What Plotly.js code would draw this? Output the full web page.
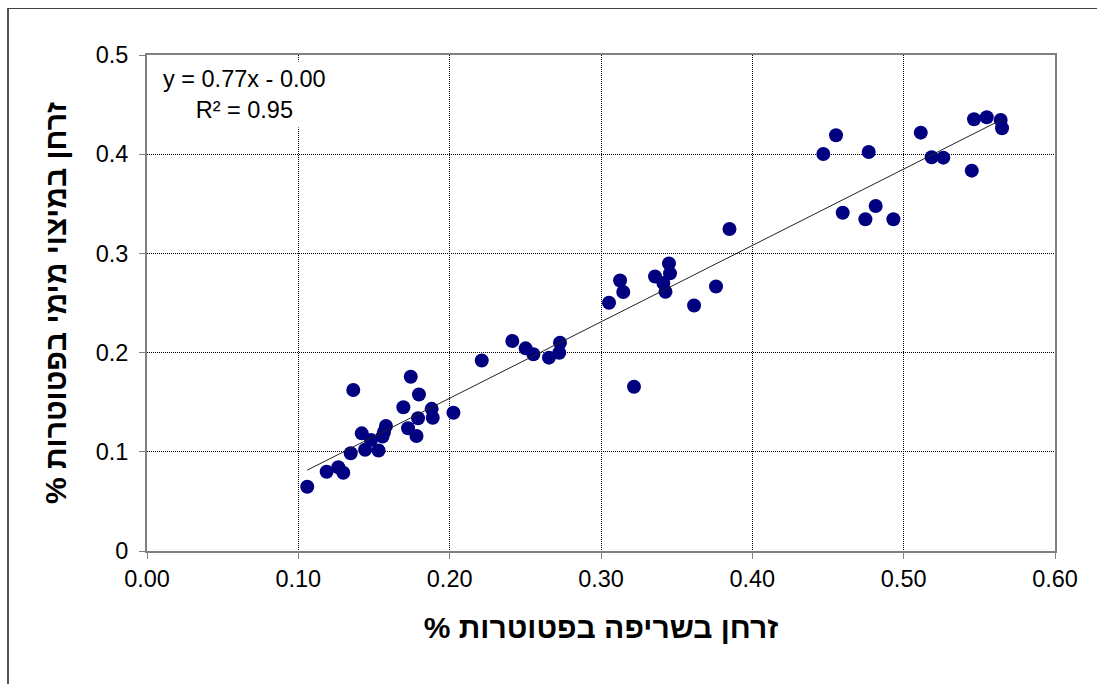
<!DOCTYPE html>
<html>
<head>
<meta charset="utf-8">
<script src="https://cdn.plot.ly/plotly-3.0.1.min.js"></script>
<style>
  html, body { margin: 0; padding: 0; background: #fff; overflow: hidden; }
  #wrap { position: relative; width: 1097px; height: 684px; }
  #chart { position: absolute; left: 0; top: 0; width: 1097px; height: 684px; }
  #frame { position: absolute; left: 7px; top: 8px; width: 1200px; height: 800px;
           border-left: 2px solid #555; border-top: 1px solid #444; pointer-events: none; }
</style>
</head>
<body>
<div id="wrap">
  <div id="chart"></div>
  <div id="frame"></div>
</div>
<script>
// Data
const burnP = [0.1059, 0.1187, 0.1264, 0.1297, 0.1346, 0.1363, 0.1419, 0.1441, 0.1480, 0.1530,
  0.1556, 0.1566, 0.1579, 0.1694, 0.1725, 0.1743, 0.1781, 0.1797, 0.1791, 0.1881,
  0.1888, 0.2025, 0.2212, 0.2414, 0.2502, 0.2553, 0.2656, 0.2724, 0.2729, 0.3053,
  0.3126, 0.3147, 0.3218, 0.3357, 0.3412, 0.3426, 0.3449, 0.3456, 0.3615, 0.3760,
  0.3849, 0.4469, 0.4553, 0.4597, 0.4747, 0.4769, 0.4815, 0.4932, 0.5113, 0.5185,
  0.5262, 0.5450, 0.5465, 0.5549, 0.5641, 0.5650];
const waterP = [0.0648, 0.0799, 0.0844, 0.0789, 0.0985, 0.1623, 0.1186, 0.1021, 0.1119, 0.1013,
  0.1154, 0.1200, 0.1260, 0.1449, 0.1237, 0.1757, 0.1159, 0.1578, 0.1338, 0.1433,
  0.1344, 0.1394, 0.1920, 0.2117, 0.2043, 0.1983, 0.1949, 0.1999, 0.2100, 0.2503,
  0.2727, 0.2611, 0.1656, 0.2767, 0.2702, 0.2614, 0.2898, 0.2799, 0.2475, 0.2666,
  0.3246, 0.4002, 0.4191, 0.3410, 0.3344, 0.4022, 0.3478, 0.3344, 0.4217, 0.3969,
  0.3965, 0.3834, 0.4352, 0.4372, 0.4345, 0.4261];

const trendSlope = 0.77;
const trendIntercept = 0.00;
const rSquared = 0.95;

const xTitle = "זרחן בשריפה בפטוטרות %\u200F";
const yTitle = "זרחן במיצוי מימי בפטוטרות %\u200F";
const eqText = "y = 0.77x - 0.00<br>R² = 0.95";

const xMin = Math.min(...burnP), xMax = Math.max(...burnP);
const trendX = [xMin, xMax];
const trendY = trendX.map(v => trendSlope * v + trendIntercept);

const FONT = "Liberation Sans, Arial, DejaVu Sans, sans-serif";
const TITLE_FONT = "Liberation Sans, Arial, DejaVu Sans, sans-serif";

const traces = [
  {
    x: burnP, y: waterP, type: 'scatter', mode: 'markers',
    marker: { color: '#000080', size: 14, line: { width: 0 } },
    hoverinfo: 'x+y'
  },
  {
    x: trendX, y: trendY, type: 'scatter', mode: 'lines',
    line: { color: '#222', width: 1 },
    hoverinfo: 'skip'
  }
];

const axisCommon = {
  showline: true, linecolor: '#808080', linewidth: 2, mirror: true,
  ticks: 'outside', ticklen: 6, tickwidth: 1, tickcolor: '#808080',
  showgrid: true, gridcolor: '#000', gridwidth: 1, griddash: '1px,1px',
  zeroline: false,
  tickfont: { family: FONT, size: 23.5, color: '#000' }
};

const layout = {
  width: 1097, height: 684,
  margin: { l: 147, r: 42, t: 55, b: 133 },
  paper_bgcolor: 'rgba(0,0,0,0)', plot_bgcolor: '#fff',
  showlegend: false,
  font: { family: FONT, color: '#000' },
  xaxis: Object.assign({}, axisCommon, {
    range: [0, 0.6], dtick: 0.1, tick0: 0, tickformat: '.2f',
    title: { text: xTitle, font: { family: TITLE_FONT, size: 30, color: '#000', weight: 'bold' }, standoff: 26 }
  }),
  yaxis: Object.assign({}, axisCommon, {
    range: [0, 0.5], dtick: 0.1, tick0: 0, ticklabelstandoff: 6,
    title: { text: yTitle, font: { family: TITLE_FONT, size: 30, color: '#000', weight: 'bold' }, standoff: 20 }
  }),
  annotations: [{
    xref: 'paper', yref: 'paper', x: 0.107, y: 0.92,
    xanchor: 'center', yanchor: 'middle',
    text: eqText, showarrow: false, align: 'center',
    bgcolor: '#fff', borderpad: 4,
    font: { family: FONT, size: 23.5, color: '#000' }
  }]
};

Plotly.newPlot('chart', traces, layout, { staticPlot: true, displayModeBar: false });
</script>
</body>
</html>
